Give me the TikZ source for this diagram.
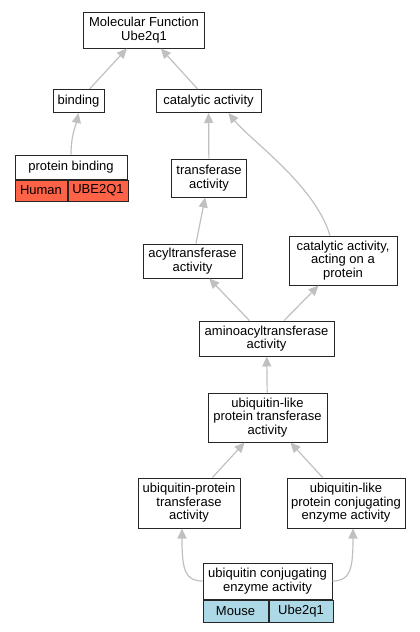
\documentclass[tikz,border=0pt]{standalone}
\usepackage{fontspec}
\setmainfont{Liberation Sans}
\usetikzlibrary{arrows.meta}
\definecolor{edgegray}{HTML}{C0C0C0}
\definecolor{humanred}{HTML}{FF6347}
\definecolor{mouseblue}{HTML}{ADD8E6}
\tikzset{
  term/.style={draw=black!85, line width=1pt, fill=white, align=center, inner sep=0pt,
    font=\fontsize{13}{13.5}\selectfont},
  cell/.style={term, anchor=north west},
  isa/.style={draw=edgegray, line width=1.2pt, -{Triangle[length=10pt,width=9pt]}}
}
\begin{document}
\begin{tikzpicture}[x=1pt,y=-1pt]
  \useasboundingbox (0,0) rectangle (420,632);
  \node[term, minimum width=121pt, minimum height=36pt] (mf) at (144,30) {Molecular Function\\Ube2q1};
  \node[term, minimum width=51pt, minimum height=23pt] (bind) at (78.5,101) {binding};
  \node[term, minimum width=105pt, minimum height=23pt] (cat) at (208.5,101) {catalytic activity};
  \node[term, minimum width=112pt, minimum height=24pt] (pb) at (71,167) {protein binding};
  \node[cell, fill=humanred, minimum width=52pt, minimum height=21pt] (pbh) at (pb.south west) {Human};
  \node[cell, fill=humanred, minimum width=60pt, minimum height=21pt] (pbg) at (pbh.north east) {UBE2Q1};
  \node[term, minimum width=75pt, minimum height=38pt] (trans) at (209,178) {transferase\\activity};
  \node[term, minimum width=99pt, minimum height=34pt] (acyl) at (192.5,261) {acyltransferase\\activity};
  \node[term, minimum width=108pt, minimum height=49pt] (caap) at (343,260.5) {catalytic activity,\\acting on a\\protein};
  \node[term, minimum width=135pt, minimum height=35pt] (amino) at (266.5,338.5) {aminoacyltransferase\\activity};
  \node[term, minimum width=119pt, minimum height=49pt] (ulpt) at (267.5,417.5) {ubiquitin-like\\protein transferase\\activity};
  \node[term, minimum width=102pt, minimum height=50pt] (upt) at (189,503) {ubiquitin-protein\\transferase\\activity};
  \node[term, minimum width=118pt, minimum height=50pt] (ulc) at (346,503) {ubiquitin-like\\protein conjugating\\enzyme activity};
  \node[term, minimum width=129pt, minimum height=36pt] (uce) at (267.5,581) {ubiquitin conjugating\\enzyme activity};
  \node[cell, fill=mouseblue, minimum width=65pt, minimum height=22pt] (ucem) at (uce.south west) {Mouse};
  \node[cell, fill=mouseblue, minimum width=64pt, minimum height=22pt] (uceg) at (ucem.north east) {Ube2q1};

  \draw[isa] (bind) -- (mf);
  \draw[isa] (cat) -- (mf);
  \draw[isa] (pb.north) .. controls (71,135) and (76,125) .. (bind.south);
  \draw[isa] (trans) -- (cat);
  \draw[isa] (acyl) -- (trans);
  \draw[isa] ([xshift=-13pt]caap.north) .. controls (315,185) and (250,140) .. ([xshift=20pt]cat.south);
  \draw[isa] (amino) -- (acyl);
  \draw[isa] (amino) -- (caap);
  \draw[isa] (ulpt) -- (amino);
  \draw[isa] (upt) -- (ulpt);
  \draw[isa] (ulc) -- (ulpt);
  \draw[isa] (uce.west) .. controls (185,581) and (182,570) .. ([xshift=-7pt]upt.south);
  \draw[isa] (uce.east) .. controls (350,581) and (353,570) .. ([xshift=7pt]ulc.south);
\end{tikzpicture}
\end{document}
